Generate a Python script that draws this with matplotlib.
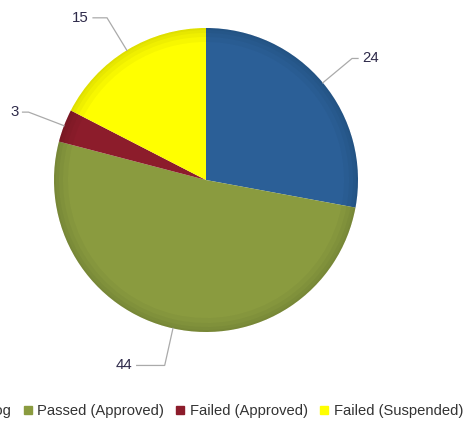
import numpy as np
import matplotlib.pyplot as plt
from matplotlib.lines import Line2D

categories = ["Backlog", "Passed (Approved)", "Failed (Approved)", "Failed (Suspended)"]
counts = [24, 44, 3, 15]
colors = ["#2b5f97", "#8a9b3f", "#8c1c2b", "#ffff00"]

# horizontal connector length per label (px)
label_pad = [6, 28, 6, 14]

W, H = 464, 422
cx, cy, R = 206, H - 180, 152

plt.rcParams["font.family"] = ["Liberation Sans", "DejaVu Sans"]

fig = plt.figure(figsize=(W / 100, H / 100), dpi=100)
ax = fig.add_axes([0, 0, 1, 1])

wedges, _ = ax.pie(counts, colors=colors, startangle=90, counterclock=False,
                   radius=R, center=(cx, cy), frame=False,
                   wedgeprops=dict(linewidth=0))

# soft darkening toward the rim
for w in [14, 9, 5, 2]:
    ax.pie(counts, colors=["black"] * len(counts), startangle=90,
           counterclock=False, radius=R, center=(cx, cy), frame=False,
           wedgeprops=dict(width=w, linewidth=0, alpha=0.03))

for wdg, val, pad in zip(wedges, counts, label_pad):
    mid = np.deg2rad((wdg.theta1 + wdg.theta2) / 2)
    x0, y0 = cx + R * np.cos(mid), cy + R * np.sin(mid)
    x1, y1 = cx + 1.25 * R * np.cos(mid), cy + 1.25 * R * np.sin(mid)
    side = 1 if np.cos(mid) >= 0 else -1
    x2 = x1 + side * pad
    ax.plot([x0, x1, x2], [y0, y1, y1], color="#aaaaaa", lw=0.9,
            solid_joinstyle="miter")
    ax.text(x2 + side * 4, y1, str(val), ha="left" if side > 0 else "right",
            va="center", fontsize=10.8, color="#2e2a4a")

ax.set_xlim(0, W)
ax.set_ylim(0, H)
ax.set_aspect("equal")
ax.axis("off")

handles = [Line2D([], [], marker="s", linestyle="none", color=c, markersize=5.8)
           for c in colors]
fig.legend(handles, categories, loc="center right", ncol=4, frameon=False,
           bbox_to_anchor=(463 / W, 1 - 411 / H), bbox_transform=fig.transFigure,
           borderpad=0, borderaxespad=0, handlelength=0.6, handletextpad=0.35,
           columnspacing=0.8, fontsize=10.6, labelcolor="#333333")

fig.savefig("out.png", dpi=100)
